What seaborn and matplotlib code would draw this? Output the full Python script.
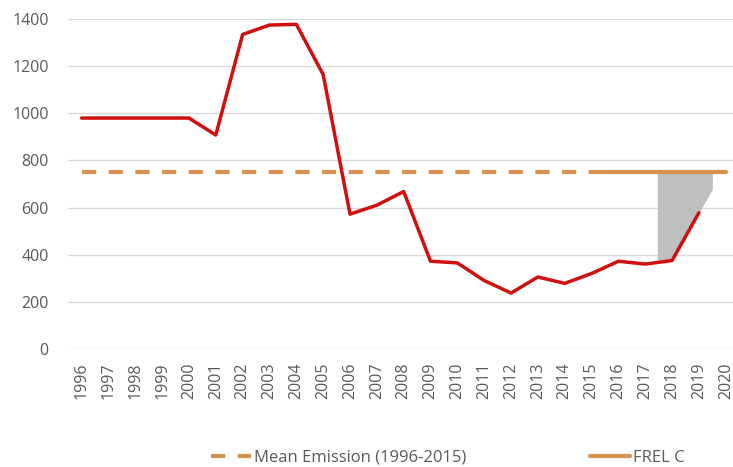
import numpy as np
import pandas as pd
import matplotlib
matplotlib.use('Agg')
import matplotlib.pyplot as plt
import seaborn as sns

# values
years = list(range(1996, 2020))
emission = [980, 980, 980, 980, 980, 908, 1335, 1375, 1378, 1165, 572, 610,
            668, 372, 365, 290, 237, 305, 278, 320, 372, 360, 375, 578]

mean_years = [1996, 2015]
mean_vals = [752, 752]

frel_years = [2015, 2020]
frel_vals = [752, 752]

gap_years = [2017.45, 2018, 2019.5]
gap_low = [378, 375, 678]
gap_high = [752, 752, 752]

tick_years = list(range(1996, 2021))

sns.set_theme(style='white')
plt.rcParams['font.family'] = ['Open Sans', 'DejaVu Sans']

fig = plt.figure(figsize=(7.33, 4.67), dpi=100)
ax = fig.add_axes([0.093, 0.253, 0.907, 0.706])

grey_text = '#595959'
orange = '#d9914f'

ax.fill_between(gap_years, gap_low, gap_high, color='#bfbfbf', lw=0, zorder=2)

df = pd.DataFrame({'year': years, 'emission': emission})
sns.lineplot(data=df, x='year', y='emission', color='#d10f0f', lw=2.5, ax=ax,
             zorder=4, label='_nolegend_')

sns.lineplot(x=mean_years, y=mean_vals, color=orange, lw=3, ax=ax, zorder=3,
             label='Mean Emission (1996-2015)')
ax.lines[-1].set_linestyle((0, (3.4, 3.0)))
sns.lineplot(x=frel_years, y=frel_vals, color=orange, lw=3, ax=ax, zorder=3,
             label='FREL C')

ax.set_xlim(1995.5, 2020.27)
ax.set_ylim(0, 1400)
ax.set_yticks(np.arange(0, 1401, 200))
ax.set_xticks(tick_years)
ax.set_xticklabels([str(y) for y in tick_years], rotation=90)
ax.tick_params(axis='both', colors=grey_text, labelsize=11.5, length=0)
ax.tick_params(axis='x', pad=10)
ax.tick_params(axis='y', pad=14)
ax.yaxis.grid(True, color='#d9d9d9', lw=1)
ax.set_axisbelow(True)
for s in ax.spines.values():
    s.set_visible(False)
ax.set_xlabel('')
ax.set_ylabel('')

handles, labels = ax.get_legend_handles_labels()
ax.get_legend().remove()
fig.legend(handles, labels, loc='center', bbox_to_anchor=(0.611, 0.02), ncol=2,
           frameon=False, fontsize=12, labelcolor=grey_text, columnspacing=7.4,
           handlelength=2.4, handletextpad=0.2)

plt.savefig('out.png', dpi=100)
